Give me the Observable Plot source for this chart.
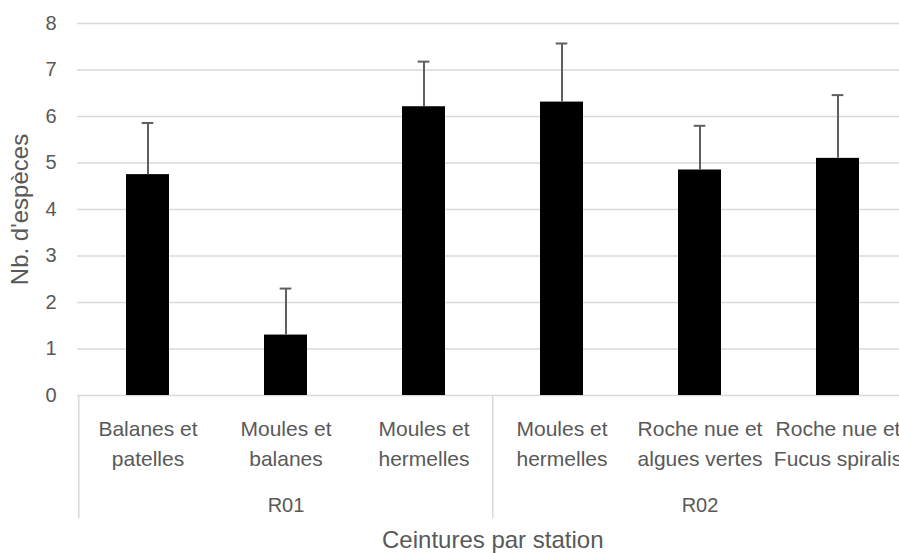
<!DOCTYPE html>
<html><head><meta charset="utf-8">
<script src="https://cdn.jsdelivr.net/npm/d3@7"></script>
<script src="https://cdn.jsdelivr.net/npm/@observablehq/plot@0.6"></script>
<style>html,body{margin:0;padding:0;overflow:hidden;background:#fff}</style>
</head><body><div id="chart"></div>
<script>
const stations = ["R01", "R01", "R01", "R02", "R02", "R02"];
const belts = ["Balanes et\npatelles", "Moules et\nbalanes", "Moules et\nhermelles", "Moules et\nhermelles", "Roche nue et\nalgues vertes", "Roche nue et\nFucus spiralis"];
const means = [4.75, 1.30, 6.21, 6.31, 4.85, 5.10];
const errors = [1.11, 1.00, 0.97, 1.26, 0.95, 1.36];
const yTicks = [0, 1, 2, 3, 4, 5, 6, 7, 8];
const xTitle = "Ceintures par station";
const yTitle = "Nb. d'espèces";

const data = belts.map((b, i) => ({key: stations[i] + "|" + b, station: stations[i], belt: b, mean: means[i], upper: means[i] + errors[i]}));
const keys = data.map(d => d.key);
const groups = Array.from(d3.group(data, d => d.station), ([station, rows]) => ({station, first: rows[0].key, mid: rows[Math.floor(rows.length / 2)].key}));

const W = 899, H = 553, mTop = 23, mBottom = 158, mLeft = 77;
const xOpts = {type: "band", domain: keys, range: [mLeft, 908], paddingInner: 0.687, paddingOuter: 0.3435, align: 0.5};
const xs = Plot.scale({x: xOpts});
const step = xs.step, bw = xs.bandwidth;
const capW = 12;
const frameH = H - mTop - mBottom;
const textColor = "#595959";

const chart = Plot.plot({
  width: W, height: H, marginTop: mTop, marginBottom: mBottom, marginLeft: mLeft, marginRight: 0,
  style: {fontFamily: "'Liberation Sans', Arial, sans-serif", fontSize: "20px", color: textColor, overflow: "hidden", background: "#fff"},
  x: {...xOpts, axis: null},
  y: {domain: [0, 8], axis: null},
  marks: [
    Plot.ruleY(yTicks, {y: d => d, stroke: "#d9d9d9", strokeWidth: 1.5}),
    Plot.axisY({ticks: yTicks, tickSize: 0, tickPadding: 21, fontSize: 20, fill: textColor, label: null}),
    Plot.barY(data, {x: "key", y: "mean", fill: "black"}),
    Plot.ruleX(data, {x: "key", y1: "mean", y2: "upper", stroke: "#5f5f5f", strokeWidth: 2}),
    Plot.tickY(data, {x: "key", y: "upper", stroke: "#5f5f5f", strokeWidth: 2, insetLeft: (bw - capW) / 2, insetRight: (bw - capW) / 2}),
    Plot.ruleX(groups, {x: "first", dx: -step / 2, insetTop: frameH, insetBottom: -123, stroke: "#d9d9d9", strokeWidth: 1.5}),
    Plot.text(data, {x: "key", text: "belt", frameAnchor: "bottom", lineAnchor: "top", dy: 20, lineHeight: 1.4, fontSize: 21, fill: textColor}),
    Plot.text(groups, {x: "mid", text: "station", frameAnchor: "bottom", lineAnchor: "top", dy: 102, fontSize: 20, fill: textColor}),
    Plot.text([xTitle], {x: () => groups[1].first, text: d => d, dx: -step / 2, frameAnchor: "bottom", lineAnchor: "middle", dy: 145, fontSize: 24, fill: textColor}),
    Plot.text([yTitle], {text: d => d, frameAnchor: "left", textAnchor: "middle", rotate: -90, dx: -57, lineAnchor: "middle", fontSize: 24, fill: textColor})
  ]
});
document.getElementById("chart").appendChild(chart);
</script>
</body></html>
